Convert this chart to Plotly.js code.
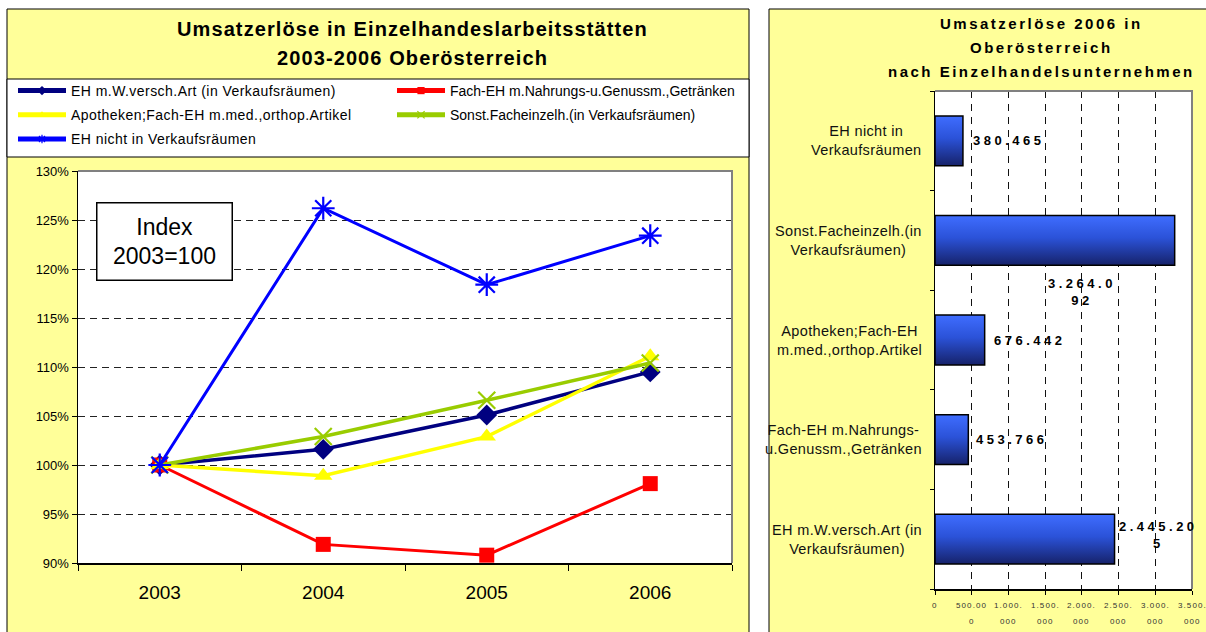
<!DOCTYPE html>
<html>
<head>
<meta charset="utf-8">
<script src="https://cdn.plot.ly/plotly-3.0.1.min.js"></script>
<style>
html,body{margin:0;padding:0;background:#fff;}
#chart{width:1206px;height:632px;}
.legendtext{letter-spacing:0.45px;}
</style>
</head>
<body>
<div id="chart"></div>
<script>
// ---------- DATA ----------
const years = ['2003', '2004', '2005', '2006'];
const lineNames = [
  'EH m.W.versch.Art (in Verkaufsräumen)',
  'Fach-EH m.Nahrungs-u.Genussm.,Getränken',
  'Apotheken;Fach-EH m.med.,orthop.Artikel',
  'Sonst.Facheinzelh.(in Verkaufsräumen)',
  'EH nicht in Verkaufsräumen'
];
const navyValues   = [100, 101.6, 105.1, 109.5];
const redValues    = [100, 91.9, 90.8, 98.1];
const yellowValues = [100, 98.9, 102.9, 111.1];
const greenValues  = [100, 102.9, 106.6, 110.4];
const blueValues   = [100, 126.2, 118.4, 123.4];
const yTickValues  = [90, 95, 100, 105, 110, 115, 120, 125, 130];
const yTickLabels  = ['90%', '95%', '100%', '105%', '110%', '115%', '120%', '125%', '130%'];

const barCategories = [
  'EH m.W.versch.Art (in<br>Verkaufsräumen)',
  'Fach-EH m.Nahrungs-<br>u.Genussm.,Getränken',
  'Apotheken;Fach-EH<br>m.med.,orthop.Artikel',
  'Sonst.Facheinzelh.(in<br>Verkaufsräumen)',
  'EH nicht in<br>Verkaufsräumen'
];
const barValues = [2445205, 453766, 676442, 3264092, 380465];
const barTickValues = [0, 500000, 1000000, 1500000, 2000000, 2500000, 3000000, 3500000];

const leftTitle = ['Umsatzerlöse in Einzelhandeslarbeitsstätten', '2003-2006 Oberösterreich'];
const rightTitle = ['Umsatzerlöse 2006 in', 'Oberösterreich', 'nach Einzelhandelsunternehmen'];
const indexNote = 'Index<br>2003=100';

// ---------- helpers ----------
const W = 1206, H = 632;
const px = x => x / W;
const py = y => 1 - y / H;
const fmt = n => String(Math.round(n)).replace(/\B(?=(\d{3})+(?!\d))/g, '.');
const splitAt = (s, n) => (n && s.length > n) ? [s.slice(0, n), s.slice(n)] : [s];
const spaced = (t, ls) => '<span style="letter-spacing:' + ls + 'px">' + t + '</span>';
const FONT = 'Liberation Sans, Arial, Helvetica, sans-serif';

// ---------- traces ----------
const lineStyles = [
  {vals: navyValues,   color: '#000080', width: 3.5, symbol: 'diamond',       size: 16, legend: 'legend'},
  {vals: redValues,    color: '#FF0000', width: 3,   symbol: 'square',        size: 15, legend: 'legend2'},
  {vals: yellowValues, color: '#FFFF00', width: 3.5, symbol: 'triangle-up',   size: 16, legend: 'legend'},
  {vals: greenValues,  color: '#99CC00', width: 3.5, symbol: 'x-thin-open',   size: 17, legend: 'legend2'},
  {vals: blueValues,   color: '#0000FF', width: 3,   symbol: 'asterisk-open', size: 19, legend: 'legend'}
];
const traces = lineStyles.map((s, i) => ({
  type: 'scatter', mode: 'lines+markers', x: years, y: s.vals, name: lineNames[i],
  xaxis: 'x', yaxis: 'y', legend: s.legend, legendgroup: 'g' + i,
  line: {color: s.color, width: s.width},
  marker: {symbol: s.symbol, size: s.size, color: s.color, line: {color: s.color, width: (s.symbol.indexOf('open') >= 0 ? 2.2 : 0)}},
  hoverinfo: 'skip'
}));
traces.push({
  type: 'bar', orientation: 'h', x: barValues, y: barCategories, xaxis: 'x2', yaxis: 'y2',
  marker: {color: '#2a4cc8', line: {color: '#000', width: 1.5}},
  showlegend: false, hoverinfo: 'skip'
});

// ---------- shapes ----------
const grayBorder = (l, t, r, b) => ({
  type: 'path', xref: 'paper', yref: 'paper', layer: 'above',
  path: 'M' + px(l) + ',' + py(t) + ' L' + px(r) + ',' + py(t) + ' L' + px(r) + ',' + py(b),
  line: {color: '#808080', width: 2}
});
const shapes = [
  {type: 'rect', xref: 'paper', yref: 'paper', layer: 'below', x0: px(7), x1: px(749), y0: py(645), y1: py(9), fillcolor: '#FFFF99', line: {color: '#000', width: 1}},
  {type: 'rect', xref: 'paper', yref: 'paper', layer: 'below', x0: px(7), x1: px(749), y0: py(157), y1: py(79), fillcolor: '#FFFFFF', line: {color: '#000', width: 1}},
  {type: 'rect', xref: 'paper', yref: 'paper', layer: 'below', x0: px(78), x1: px(732), y0: py(563), y1: py(171), fillcolor: '#FFFFFF', line: {width: 0}},
  {type: 'rect', xref: 'paper', yref: 'paper', layer: 'below', x0: px(769), x1: px(1215), y0: py(645), y1: py(9), fillcolor: '#FFFF99', line: {color: '#000', width: 1}},
  {type: 'rect', xref: 'paper', yref: 'paper', layer: 'below', x0: px(935), x1: px(1192), y0: py(589), y1: py(91), fillcolor: '#FFFFFF', line: {width: 0}},
  grayBorder(78, 171, 732, 563),
  grayBorder(935, 91, 1192, 589)
];

// ---------- annotations ----------
const annotations = [];
leftTitle.forEach((t, i) => annotations.push({
  xref: 'paper', yref: 'paper', x: px(412), y: py([29, 58][i]), xanchor: 'center', yanchor: 'middle',
  text: spaced(t, 1.1), showarrow: false, font: {family: FONT, size: 20, weight: 700, color: '#000'}
}));
rightTitle.forEach((t, i) => annotations.push({
  xref: 'paper', yref: 'paper', x: px(1041), y: py([24, 48, 72][i]), xanchor: 'center', yanchor: 'middle',
  text: spaced(t, 2.5), showarrow: false, font: {family: FONT, size: 15, weight: 700, color: '#000'}
}));
annotations.push({
  xref: 'paper', yref: 'paper', x: px(165), y: py(241), xanchor: 'center', yanchor: 'middle',
  text: indexNote, showarrow: false, align: 'center', width: 134, height: 76, borderpad: 0,
  bordercolor: '#000', borderwidth: 1.5, bgcolor: '#fff',
  font: {family: FONT, size: 23, color: '#000'}
});
barCategories.forEach(c => annotations.push({
  xref: 'paper', yref: 'y2', x: px(924), y: c, xanchor: 'right', yanchor: 'middle',
  text: spaced(c, 0.35), showarrow: false, align: 'center', font: {family: FONT, size: 14.5, color: '#111'}
}));
// value labels: per-bar placement (Excel wraps long labels)
const labelPlacement = [
  {wrap: 8, xanchor: 'left', xshift: 2, yshift: 4},
  {wrap: 0, xanchor: 'left', xshift: 6, yshift: 0},
  {wrap: 0, xanchor: 'left', xshift: 7, yshift: 0},
  {wrap: 7, xanchor: 'center', xshift: -93, yshift: -52},
  {wrap: 0, xanchor: 'left', xshift: 8, yshift: 0}
];
barValues.forEach((v, i) => {
  const p = labelPlacement[i];
  annotations.push({
    xref: 'x2', yref: 'y2', x: v, y: barCategories[i], xanchor: p.xanchor, yanchor: 'middle',
    xshift: p.xshift, yshift: p.yshift, align: 'center', showarrow: false,
    text: splitAt(fmt(v), p.wrap).map(s => spaced(s, 3.5)).join('<br>'),
    font: {family: FONT, size: 13, weight: 700, color: '#000'}
  });
});
// x tick labels of the bar chart (wrapped like Excel, with wide line spacing)
barTickValues.forEach(v => {
  splitAt(fmt(v), 6).forEach((part, k) => annotations.push({
    xref: 'x2', yref: 'paper', x: v, y: py([605, 621][k]), xanchor: 'center', yanchor: 'middle',
    text: spaced(part, 1.1), showarrow: false, font: {family: FONT, size: 8, color: '#333'}
  }));
});

// ---------- layout ----------
const layout = {
  width: W, height: H, margin: {l: 0, r: 0, t: 0, b: 0},
  paper_bgcolor: '#FFFFFF', plot_bgcolor: 'rgba(0,0,0,0)',
  font: {family: FONT, color: '#000'},
  showlegend: true, bargap: 0.5,
  xaxis: {
    domain: [px(78), px(732)], anchor: 'y', type: 'category', range: [-0.5, 3.5],
    tickson: 'boundaries', ticks: 'outside', ticklen: 6, tickcolor: '#000', tickwidth: 1,
    showline: true, linecolor: '#000', linewidth: 1.5, showgrid: false, zeroline: false,
    tickfont: {family: FONT, size: 19, color: '#000'}, ticklabelstandoff: 12, fixedrange: true
  },
  yaxis: {
    domain: [py(563), py(171)], anchor: 'x', range: [90, 130], tickmode: 'array',
    tickvals: yTickValues, ticktext: yTickLabels,
    ticks: 'outside', ticklen: 5, tickcolor: '#000', showline: true, linecolor: '#000', linewidth: 1.5,
    showgrid: true, gridcolor: '#222', gridwidth: 1, griddash: '7px,5px', zeroline: false,
    tickfont: {family: FONT, size: 13, color: '#000'}, fixedrange: true
  },
  xaxis2: {
    domain: [px(935), px(1192)], anchor: 'y2', range: [0, 3500000], tickmode: 'array', tickvals: barTickValues,
    showticklabels: false,
    ticks: 'outside', ticklen: 4, tickcolor: '#000', showline: true, linecolor: '#000', linewidth: 1.5,
    showgrid: true, gridcolor: '#111', gridwidth: 1, griddash: '7px,6px', zeroline: false, fixedrange: true
  },
  yaxis2: {
    domain: [py(589), py(91)], anchor: 'x2', type: 'category', tickson: 'boundaries',
    ticks: 'outside', ticklen: 4, tickcolor: '#000', showticklabels: false,
    showline: true, linecolor: '#000', linewidth: 1.5, showgrid: false, zeroline: false, fixedrange: true
  },
  legend: {
    x: px(13), y: py(75), xanchor: 'left', yanchor: 'top', orientation: 'v',
    bgcolor: 'rgba(0,0,0,0)', borderwidth: 0, traceorder: 'grouped', tracegroupgap: 3,
    itemwidth: 48, itemsizing: 'constant', font: {family: FONT, size: 14, color: '#000'}
  },
  legend2: {
    x: px(392), y: py(75), xanchor: 'left', yanchor: 'top', orientation: 'v',
    bgcolor: 'rgba(0,0,0,0)', borderwidth: 0, traceorder: 'grouped', tracegroupgap: 3,
    itemwidth: 48, itemsizing: 'constant', font: {family: FONT, size: 14, color: '#000'}
  },
  shapes: shapes,
  annotations: annotations
};

Plotly.newPlot('chart', traces, layout, {displayModeBar: false, staticPlot: true}).then(gd => {
  const ns = 'http://www.w3.org/2000/svg';
  const svg = gd.querySelector('.main-svg');
  let defs = svg.querySelector('defs');
  if (!defs) { defs = document.createElementNS(ns, 'defs'); svg.insertBefore(defs, svg.firstChild); }
  const lg = document.createElementNS(ns, 'linearGradient');
  lg.setAttribute('id', 'barGrad');
  lg.setAttribute('x1', '0'); lg.setAttribute('y1', '0'); lg.setAttribute('x2', '0'); lg.setAttribute('y2', '1');
  [['0', '#3f6dff'], ['0.45', '#2b52d8'], ['1', '#16226a']].forEach(s => {
    const st = document.createElementNS(ns, 'stop');
    st.setAttribute('offset', s[0]); st.setAttribute('stop-color', s[1]);
    lg.appendChild(st);
  });
  defs.appendChild(lg);
  gd.querySelectorAll('.barlayer .point path').forEach(p => { p.style.fill = 'url(#barGrad)'; });
  // smaller legend markers, as in the Excel legend (both legends)
  gd.querySelectorAll('.legendpoints path.scatterpts').forEach(p => {
    p.setAttribute('transform', (p.getAttribute('transform') || '') + ' scale(0.6)');
  });
});
</script>
</body>
</html>
